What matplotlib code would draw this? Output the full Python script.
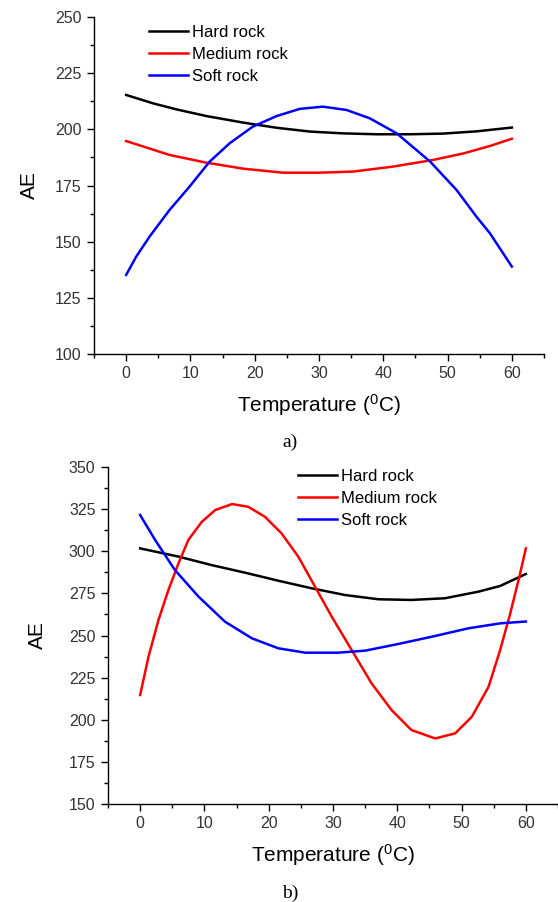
import matplotlib
matplotlib.use("Agg")
import matplotlib.pyplot as plt
from matplotlib.ticker import MultipleLocator

plt.rcParams['font.family'] = ['Liberation Sans', 'DejaVu Sans']
plt.rcParams['mathtext.default'] = 'regular'

series = ["Hard rock", "Medium rock", "Soft rock"]
colors = ["black", "#ff0000", "#0000ff"]

# ---- panel a data (Temperature, AE) ----
hard_a_x = [0, 4.15, 7.8, 12.5, 18.2, 23.4, 28.6, 33.8, 39, 44.1, 49.3, 54.5, 60]
hard_a_y = [215.3, 211.6, 208.9, 205.9, 203, 200.7, 199, 198.2, 197.8, 197.8, 198.1, 199.1, 200.8]
med_a_x = [0, 6.75, 12.4, 18.2, 24.4, 30.1, 35.3, 41.5, 47.8, 52.5, 56.6, 60]
med_a_y = [194.8, 188.6, 185.2, 182.5, 180.7, 180.7, 181.2, 183.4, 186.4, 189.3, 192.6, 195.8]
soft_a_x = [0, 1.56, 3.63, 6.75, 9.86, 12.98, 16.1, 19.7, 23.4, 27.0, 30.6, 34.3, 37.9, 42.1, 47.3, 51.4, 54.5, 56.6, 60]
soft_a_y = [135.2, 143.3, 152.2, 164.1, 174.5, 185.6, 193.8, 201.2, 205.9, 209.1, 210.1, 208.6, 204.9, 198.2, 185.6, 173, 161.1, 153.7, 138.9]

# ---- panel b data (Temperature, AE) ----
hard_b_x = [0, 6, 11.1, 16.3, 21.5, 26.7, 31.9, 37.1, 42.2, 47.4, 52.6, 56, 60]
hard_b_y = [301.7, 296.8, 291.8, 287.3, 282.5, 278, 274, 271.5, 271.1, 272.1, 276, 279.4, 286.5]
med_b_x = [0, 1.3, 2.85, 4.4, 5.96, 7.5, 9.6, 11.7, 14.3, 16.8, 19.4, 22, 24.6, 27.2, 29.8, 32.9, 36,
           39.1, 42.2, 45.9, 49, 51.6, 54.2, 56, 57.5, 59, 60]
med_b_y = [214.7, 237.4, 259.2, 277, 292.8, 306.7, 317.5, 324.5, 328, 326.4, 320.5, 310.6, 296.8, 279, 261.2, 241.4, 221.6,
           205.8, 193.9, 188.9, 191.9, 201.8, 219.6, 241.4, 262, 285, 301.7]
soft_b_x = [0, 2.33, 5.4, 9.1, 13.2, 17.4, 21.5, 25.7, 30.8, 35, 40.2, 45.4, 51.1, 56, 60]
soft_b_y = [321.5, 306.7, 288.9, 273, 258.2, 248.3, 242.4, 239.8, 239.8, 241, 245, 249.3, 254.3, 257.2, 258.3]

W, H = 558, 902
fig = plt.figure(figsize=(W / 100, H / 100), dpi=100)


def px_rect(l, t, r, b):
    return [l / W, 1 - b / H, (r - l) / W, (b - t) / H]


def style(ax, ylim, ymaj, ylab_x):
    ax.set_xlim(-5, 65)
    ax.set_ylim(*ylim)
    ax.spines['top'].set_visible(False)
    ax.spines['right'].set_visible(False)
    for s in ('left', 'bottom'):
        ax.spines[s].set_linewidth(1.0)
    ax.set_xticks([0, 10, 20, 30, 40, 50, 60])
    ax.xaxis.set_minor_locator(MultipleLocator(5))
    ax.yaxis.set_major_locator(MultipleLocator(ymaj))
    ax.yaxis.set_minor_locator(MultipleLocator(ymaj / 2))
    ax.tick_params(which='major', direction='out', length=5, width=1, labelsize=11.5,
                   labelcolor='#333333', pad=4)
    ax.tick_params(which='minor', direction='out', length=3, width=1)
    ax.set_xlabel('Temperature ($^{0}$C)', fontsize=15)
    ax.set_ylabel('AE', fontsize=15)
    ax.xaxis.set_label_coords(0.5, -0.151)
    ax.yaxis.set_label_coords(ylab_x, 0.5)
    ax.xaxis.label.set_va('center')
    ax.yaxis.label.set_va('center')


def add_legend(ax, x, y):
    ax.legend(loc='upper left', bbox_to_anchor=(x / W, 1 - y / H), bbox_transform=fig.transFigure,
              frameon=False, fontsize=12, handlelength=2.35, handletextpad=0.25, labelspacing=0.42,
              borderaxespad=0, borderpad=0)


# panel a
ax1 = fig.add_axes(px_rect(94, 17, 544, 354))
for xs, ys, c, lab in zip([hard_a_x, med_a_x, soft_a_x], [hard_a_y, med_a_y, soft_a_y], colors, series):
    ax1.plot(xs, ys, color=c, lw=1.8, label=lab)
style(ax1, (100, 250), 25, (29 - 94) / 450)
add_legend(ax1, 149, 25)

# panel b
ax2 = fig.add_axes(px_rect(108, 467, 558, 804))
for xs, ys, c, lab in zip([hard_b_x, med_b_x, soft_b_x], [hard_b_y, med_b_y, soft_b_y], colors, series):
    ax2.plot(xs, ys, color=c, lw=1.8, label=lab)
style(ax2, (150, 350), 25, (37 - 108) / 450)
add_legend(ax2, 298, 469)

fig.text(290 / W, 1 - 442 / H, 'a)', ha='center', va='center', fontsize=14, family='Liberation Serif')
fig.text(290 / W, 1 - 893 / H, 'b)', ha='center', va='center', fontsize=14, family='Liberation Serif')

fig.savefig('out.png', dpi=100)
